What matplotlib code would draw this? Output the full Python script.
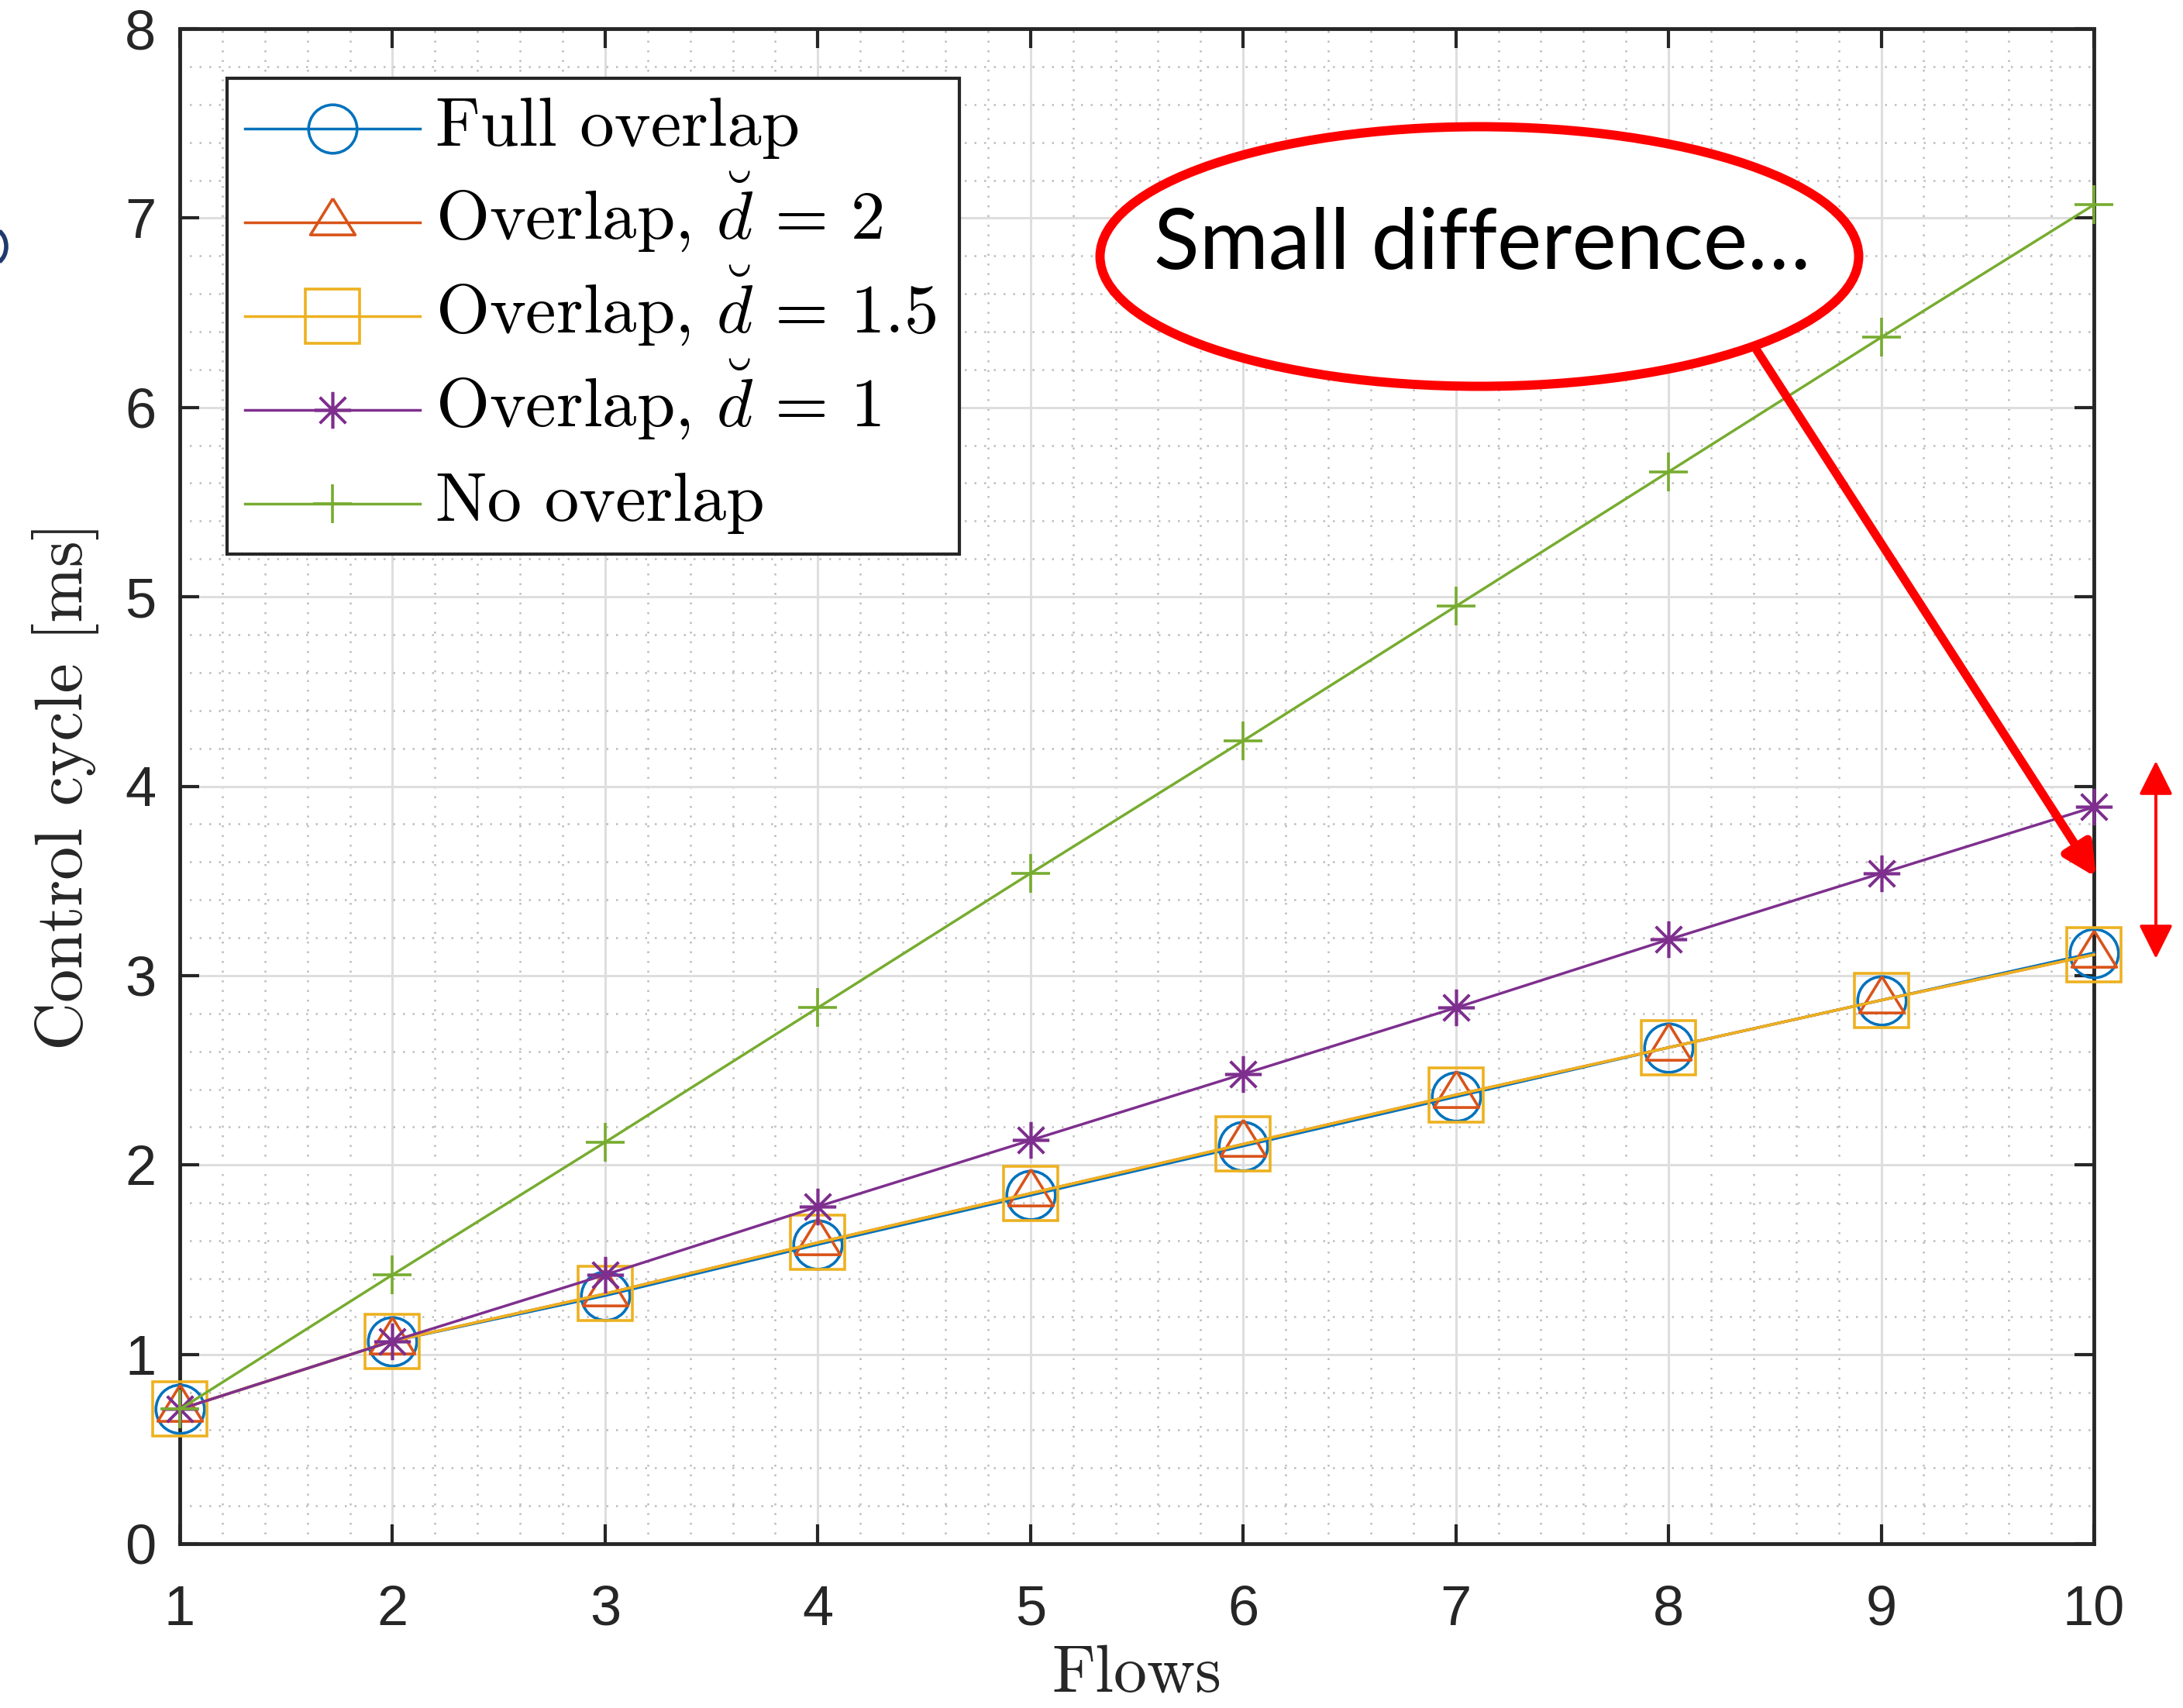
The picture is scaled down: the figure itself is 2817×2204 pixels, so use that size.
import numpy as np
import matplotlib.pyplot as plt
from matplotlib.patches import Ellipse, FancyArrowPatch, Arc, Rectangle
from matplotlib.lines import Line2D
from matplotlib.ticker import MultipleLocator

plt.rcParams['mathtext.fontset'] = 'cm'

W, H = 2817, 2204

flows = [1, 2, 3, 4, 5, 6, 7, 8, 9, 10]
full_overlap = [0.71, 1.07, 1.31, 1.58, 1.84, 2.10, 2.36, 2.62, 2.87, 3.12]
overlap_d2 = [0.71, 1.07, 1.32, 1.59, 1.85, 2.11, 2.37, 2.62, 2.87, 3.11]
overlap_d15 = [0.71, 1.07, 1.32, 1.59, 1.85, 2.11, 2.37, 2.62, 2.87, 3.11]
overlap_d1 = [0.71, 1.07, 1.42, 1.78, 2.13, 2.48, 2.83, 3.19, 3.54, 3.89]
no_overlap = [0.71, 1.42, 2.12, 2.83, 3.54, 4.24, 4.95, 5.66, 6.37, 7.07]

labels = ['Full overlap',
          r'Overlap, $\breve{d}\,=\,2$',
          r'Overlap, $\breve{d}\,=\,1.5$',
          r'Overlap, $\breve{d}\,=\,1$',
          'No overlap']
colors = ['#0072BD', '#D95319', '#EDB120', '#7E2F8E', '#77AC30']

# MATLAB-like triangle, centred on its centroid
tri = [(0, 0.54), (-0.5, -0.27), (0.5, -0.27), (0, 0.54)]
styles = [dict(marker='o', ms=45, mfc='none'),
          dict(marker=tri, ms=45, mfc='none'),
          dict(marker='s', ms=50, mfc='none'),
          dict(marker=(8, 2, 0), ms=34),
          dict(marker='+', ms=36)]
series = [full_overlap, overlap_d2, overlap_d15, overlap_d1, no_overlap]


def fx(px):
    return px / W


def fy(py):
    return 1 - py / H


fig = plt.figure(figsize=(W / 100, H / 100), dpi=100)
ax = fig.add_axes([fx(232), fy(1992), fx(2702) - fx(232), fy(37) - fy(1992)])

lw = 2.5
for vals, col, st in zip(series, colors, styles):
    ax.plot(flows, vals, color=col, lw=lw, mew=2.6, clip_on=False, zorder=3, **st)

ax.set_xlim(1, 10)
ax.set_ylim(0, 8)
ax.xaxis.set_major_locator(MultipleLocator(1))
ax.yaxis.set_major_locator(MultipleLocator(1))
ax.xaxis.set_minor_locator(MultipleLocator(0.2))
ax.yaxis.set_minor_locator(MultipleLocator(0.2))
ax.grid(which='major', color='#dedede', lw=2.2, zorder=0)
ax.grid(which='minor', color='#bdbdbd', lw=1.8, ls=(0, (1, 4)), zorder=0)
ax.set_axisbelow(True)

ax.tick_params(which='major', direction='in', length=18, width=3,
               color='#262626', top=True, right=True,
               labelsize=52, labelcolor='#262626', labelfontfamily='Liberation Sans')
ax.tick_params(axis='x', which='major', pad=38)
ax.tick_params(axis='y', which='major', pad=22)
ax.tick_params(which='minor', length=0)
for s in ax.spines.values():
    s.set_color('#262626')
    s.set_linewidth(3.5)

ax.set_xlabel('Flows', fontsize=62, family='cmr10', color='#262626', labelpad=8)
ax.set_ylabel('Control cycle [ms]', fontsize=62, family='cmr10', color='#262626', labelpad=24)

# legend box, drawn by hand for MATLAB-like even rows
fig.add_artist(Rectangle((fx(293), fy(715)), fx(1238) - fx(293), fy(101) - fy(715),
                         transform=fig.transFigure, facecolor='white',
                         edgecolor='#262626', lw=3, zorder=5))
row_y = [166, 287, 408, 529, 650]
for yy, lab, col, st in zip(row_y, labels, colors, styles):
    fig.add_artist(Line2D([fx(316), fx(542)], [fy(yy), fy(yy)], color=col, lw=lw,
                          transform=fig.transFigure, zorder=6))
    fig.add_artist(Line2D([fx(429)], [fy(yy)], color=col, mew=2.6, ls='none',
                          transform=fig.transFigure, zorder=6, **st))
    fig.text(fx(562), fy(yy + 22), lab, fontsize=64, family='cmr10',
             ha='left', va='baseline', zorder=7)

# annotation callout
ell = Ellipse((fx(1909), fy(331)), fx(979), 335 / H, transform=fig.transFigure,
              facecolor='white', edgecolor='#ff0000', lw=8.6, zorder=8)
fig.add_artist(ell)
fig.text(fx(1913), fy(316), 'Small difference\u2026', fontsize=78,
         family=['Lato', 'DejaVu Sans'], ha='center', va='center', zorder=9)

arr = FancyArrowPatch((fx(2267), fy(452)), (fx(2705), fy(1132)),
                      transform=fig.transFigure, arrowstyle='-|>,head_length=1.0,head_width=0.5',
                      mutation_scale=25, color='#ff0000', lw=8, shrinkA=0, shrinkB=0, zorder=8)
fig.add_artist(arr)

darr = FancyArrowPatch((fx(2782), fy(1237)), (fx(2782), fy(982)),
                       transform=fig.transFigure, arrowstyle='<|-|>,head_length=1.0,head_width=0.5',
                       mutation_scale=27, color='#ff0000', lw=2.8, shrinkA=0, shrinkB=0, zorder=8)
fig.add_artist(darr)

# fragment of cropped slide text at left edge
frag = Arc((fx(-10), fy(318)), 36 / W, 46 / H, theta1=-70, theta2=70,
           transform=fig.transFigure, color='#1f3a6e', lw=4)
fig.add_artist(frag)

fig.savefig('out.png', dpi=100)
